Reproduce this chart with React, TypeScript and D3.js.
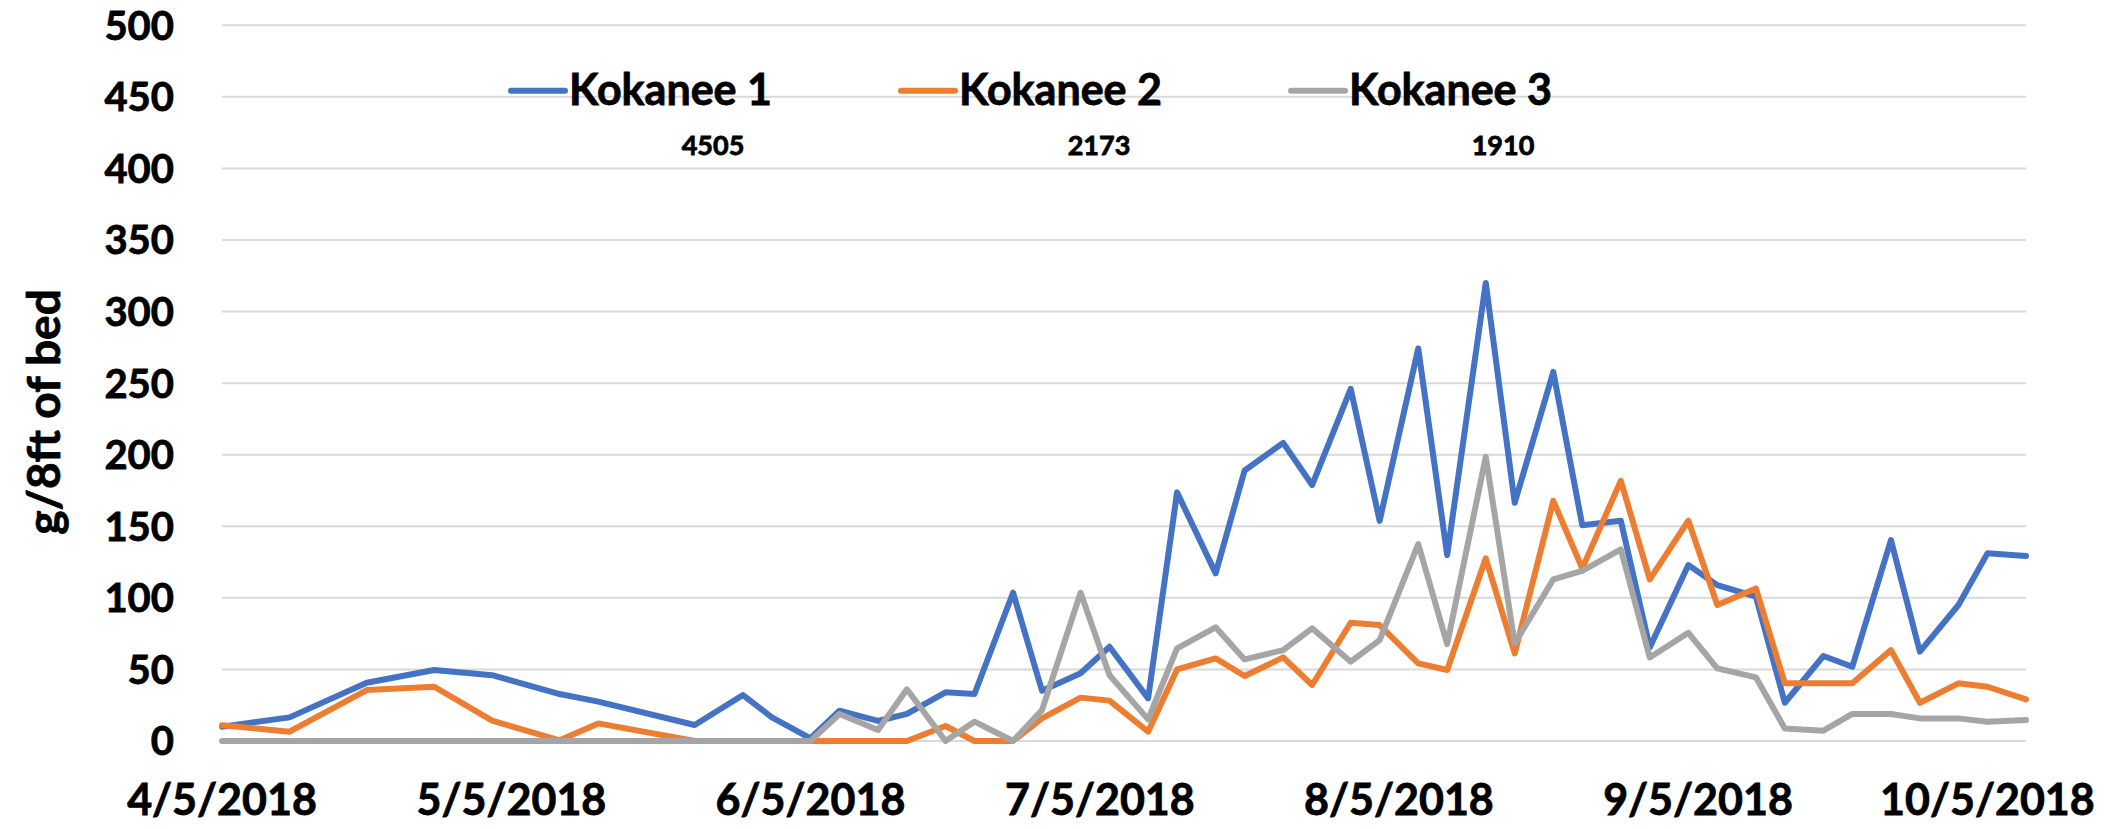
import { useEffect, useRef } from 'react';
import * as d3 from 'd3';

// sampling dates (twice weekly through summer)
const sampleDates = [
  '2018-04-05', '2018-04-12', '2018-04-20', '2018-04-27', '2018-05-03', '2018-05-10',
  '2018-05-14', '2018-05-24', '2018-05-29', '2018-06-01', '2018-06-05', '2018-06-08',
  '2018-06-12', '2018-06-15', '2018-06-19', '2018-06-22', '2018-06-26', '2018-06-29',
  '2018-07-03', '2018-07-06', '2018-07-10', '2018-07-13', '2018-07-17', '2018-07-20',
  '2018-07-24', '2018-07-27', '2018-07-31', '2018-08-03', '2018-08-07', '2018-08-10',
  '2018-08-14', '2018-08-17', '2018-08-21', '2018-08-24', '2018-08-28', '2018-08-31',
  '2018-09-04', '2018-09-07', '2018-09-11', '2018-09-14', '2018-09-18', '2018-09-21',
  '2018-09-25', '2018-09-28', '2018-10-02', '2018-10-05', '2018-10-09'
];

const kokanee1 = [
  10, 16.5, 40.7, 49.6, 46, 32.8, 27.5, 11.2, 32.1, 16.5, 1.9, 21.2,
  14, 18.9, 34, 32.8, 103.6, 35.1, 47.3, 65.9, 29.8, 173.7, 117.1, 189,
  208.3, 178.8, 246, 153.8, 274.2, 129.9, 320, 166.4, 257.9, 150.8, 153.9, 65.4,
  122.9, 108.9, 100.8, 26.7, 59.4, 51.9, 140.4, 62.4, 95, 131.1, 129.2
];

const kokanee2 = [
  11, 6.5, 35.6, 37.9, 14.2, 0.5, 12.3, 0, 0, 0, 0, 0,
  0, 0, 10.5, 0, 0, 15.8, 30.3, 28.2, 6.5, 50, 57.7, 45.4,
  58.4, 39.1, 82.6, 81, 54.2, 49.6, 127.6, 61.2, 167.8, 120.6, 181.8, 112.9,
  153.9, 95, 106.6, 40.3, 40.3, 40.3, 63.5, 26.7, 40.3, 37.9, 29.1
];

const kokanee3 = [
  0, 0, 0, 0, 0, 0, 0, 0, 0, 0, 0, 18.9,
  7.7, 36.1, 0, 13.5, 0, 21.6, 103.6, 46, 15.1, 64.7, 79.4, 57,
  63.5, 78.7, 55.4, 70.5, 137.6, 67.7, 198.5, 68.2, 112.9, 118.9, 133.9, 58.4,
  75.6, 50.7, 44.5, 8.8, 7.2, 18.9, 18.9, 15.8, 15.8, 13.5, 14.6
];

const seriesNames = ['Kokanee 1', 'Kokanee 2', 'Kokanee 3'];
const seriesColors = ['#4472C4', '#ED7D31', '#A5A5A5'];
const seriesTotals = ['4505', '2173', '1910'];

const xTickDates = ['2018-04-05', '2018-05-05', '2018-06-05', '2018-07-05', '2018-08-05', '2018-09-05', '2018-10-05'];
const yTicks = [0, 50, 100, 150, 200, 250, 300, 350, 400, 450, 500];

export default function App() {
  const svgRef = useRef<SVGSVGElement>(null);

  useEffect(() => {
    if (!svgRef.current) return;
    const svg = d3.select(svgRef.current);
    svg.selectAll('*').remove();

    const width = 2118;
    const height = 829;
    const font = 'Lato, "Open Sans", sans-serif';

    svg.attr('width', width).attr('height', height);

    const parse = d3.utcParse('%Y-%m-%d');
    const dates = sampleDates.map((d) => parse(d) as Date);
    const fmt = d3.utcFormat('%-m/%-d/%Y');

    const x = d3
      .scaleUtc()
      .domain([dates[0], dates[dates.length - 1]])
      .range([222, 2026]);
    const y = d3.scaleLinear().domain([0, 500]).range([741, 25.3]);

    // shared text styling: bold black, slightly thickened like Calibri bold
    const styleText = (sel: any, size: number) =>
      sel
        .style('font-family', font)
        .style('font-weight', 'bold')
        .style('font-size', `${size}px`)
        .attr('fill', '#000')
        .attr('stroke', '#000')
        .attr('stroke-width', 0.8);

    // gridlines
    svg
      .append('g')
      .selectAll('line')
      .data(yTicks)
      .enter()
      .append('line')
      .attr('x1', x.range()[0])
      .attr('x2', x.range()[1])
      .attr('y1', (d) => y(d))
      .attr('y2', (d) => y(d))
      .attr('stroke', '#d9d9d9')
      .attr('stroke-width', 2);

    // y tick labels
    styleText(
      svg
        .append('g')
        .selectAll('text')
        .data(yTicks)
        .enter()
        .append('text')
        .attr('x', 174)
        .attr('y', (d) => y(d))
        .attr('dy', '0.36em')
        .attr('text-anchor', 'end')
        .text((d) => `${d}`),
      40
    );

    // x tick labels
    styleText(
      svg
        .append('g')
        .selectAll('text')
        .data(xTickDates.map((d) => parse(d) as Date))
        .enter()
        .append('text')
        .attr('x', (d) => x(d))
        .attr('y', 815)
        .attr('text-anchor', 'middle')
        .text((d) => fmt(d)),
      43
    );

    // y axis title
    styleText(
      svg
        .append('text')
        .attr('transform', 'translate(44,412) rotate(-90)')
        .attr('text-anchor', 'middle')
        .attr('dy', '0.35em')
        .text('g/8ft of bed'),
      46
    );

    // series lines
    const line = d3
      .line<number>()
      .x((_, i) => x(dates[i]))
      .y((d) => y(d));

    [kokanee1, kokanee2, kokanee3].forEach((values, i) => {
      svg
        .append('path')
        .datum(values)
        .attr('d', line)
        .attr('fill', 'none')
        .attr('stroke', seriesColors[i])
        .attr('stroke-width', 6)
        .attr('stroke-linejoin', 'round')
        .attr('stroke-linecap', 'round');
    });

    // legend + totals
    const legend = svg
      .selectAll('g.legend')
      .data(seriesNames)
      .enter()
      .append('g')
      .attr('class', 'legend')
      .attr('transform', (_, i) => `translate(${511 + i * 390},0)`);

    legend
      .append('line')
      .attr('x1', 0)
      .attr('x2', 54)
      .attr('y1', 90.7)
      .attr('y2', 90.7)
      .attr('stroke', (_, i) => seriesColors[i])
      .attr('stroke-width', 6)
      .attr('stroke-linecap', 'round');

    styleText(
      legend
        .append('text')
        .attr('x', 58)
        .attr('y', 105)
        .text((d) => d),
      43
    );

    styleText(
      legend
        .append('text')
        .attr('x', (_, i) => 202 + [0, -4, 10][i])
        .attr('y', 155)
        .attr('text-anchor', 'middle')
        .text((_, i) => seriesTotals[i]),
      27
    );
  }, []);

  return (
    <svg
      ref={svgRef}
      style={{ position: 'absolute', left: 0, top: 0, display: 'block', background: '#fff' }}
    ></svg>
  );
}
